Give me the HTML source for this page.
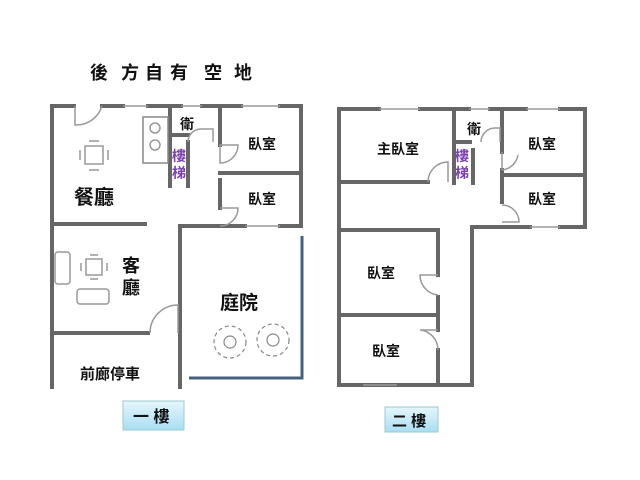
<!DOCTYPE html>
<html><head><meta charset="utf-8"><style>
html,body{margin:0;padding:0;background:#fff;}
svg{display:block;}
text{font-family:"Liberation Sans","Noto Sans CJK TC",sans-serif;font-weight:bold;fill:#111;}
</style></head><body>
<svg width="640" height="480" viewBox="0 0 640 480" xmlns="http://www.w3.org/2000/svg">
<defs>
<linearGradient id="bg" x1="0" y1="0" x2="0" y2="1"><stop offset="0" stop-color="#e6f6fc"/><stop offset="1" stop-color="#a9def3"/></linearGradient>
</defs>
<!-- title -->
<text x="90" y="79" font-size="18">後</text>
<text x="121" y="79" font-size="18">方</text>
<text x="145" y="79" font-size="18">自</text>
<text x="170" y="79" font-size="18">有</text>
<text x="204" y="79" font-size="18">空</text>
<text x="234" y="79" font-size="18">地</text>

<g stroke="#666" stroke-width="4" fill="none" stroke-linecap="square">
<!-- FLOOR 1 -->
<path d="M52 387 V106 H74 M102 106 H123 M148 106 H181 M202 106 H241 M280 106 H301 V226 H280 M245 226 H220"/>
<path d="M170 106 V186 M170 135 H188 M188 142 V186"/>
<path d="M220 106 V145 M220 180 V208 M220 173 H301"/>
<path d="M52 224 H145 M180 387 V226 H220"/>
<path d="M52 333 H148"/>
</g>
<g stroke="#999" stroke-width="1.5" fill="none">
<path d="M123 106 H148 M181 106 H202 M241 106 H280 M245 226 H280"/>
<path d="M75 106 V125 A27 27 0 0 0 102 106"/>
<path d="M220 145 H238 A18 18 0 0 1 220 163 Z" />
<path d="M220 208 H238 A18 18 0 0 1 220 226"/>
<path d="M150 333 A28 28 0 0 1 178 305 V333"/>
<path d="M188 142 A13 13 0 0 1 201 129 H213 V142"/>
<rect x="143" y="117" width="25" height="46" stroke="#888"/>
<circle cx="155" cy="128" r="5"/><circle cx="155" cy="145" r="5"/>
<rect x="85" y="146" width="18" height="18"/><path d="M80 150v10M108 150v10M89 141h10M89 170h10"/>
<rect x="86" y="259" width="16" height="16"/><path d="M81 263v8M107 263v8M90 255h8M90 279h8"/>
<rect x="55" y="252" width="15" height="32" rx="3"/>
<rect x="77" y="289" width="32" height="15" rx="3"/>
</g>
<g stroke="#44607f" stroke-width="3" fill="none"><path d="M302 236 V378 H189"/></g>
<g stroke="#888" stroke-width="1.2" fill="none">
<circle cx="230" cy="342" r="6"/><circle cx="230" cy="342" r="16" stroke-dasharray="4 3"/>
<circle cx="273" cy="340" r="6"/><circle cx="273" cy="340" r="16" stroke-dasharray="4 3"/>
</g>
<text x="74" y="204" font-size="20">餐廳</text>
<text x="122" y="272" font-size="18">客</text>
<text x="122" y="294" font-size="18">廳</text>
<text x="220" y="309" font-size="19">庭院</text>
<text x="80" y="379" font-size="15">前廊停車</text>
<text x="248" y="149" font-size="14">臥室</text>
<text x="248" y="204" font-size="14">臥室</text>
<text x="180" y="129" font-size="14">衛</text>
<text x="172" y="161" font-size="14" style="fill:#7a3fb0">樓</text>
<text x="172" y="178" font-size="14" style="fill:#7a3fb0">梯</text>

<!-- FLOOR 2 -->
<g stroke="#666" stroke-width="4" fill="none" stroke-linecap="square">
<path d="M339 385 V109 H379 M420 109 H469 M490 109 H526 M560 109 H585 V227 H560 M530 227 H472 V385 H339 M363 385 H339 M397 385 H438"/>
<path d="M339 182 H428 M454 109 V183 M473 150 V183 M454 142 H470"/>
<path d="M502 109 V152 M502 170 V202 M502 175 H585"/>
<path d="M339 230 H438 V275 M438 297 V330 M438 350 V385 M339 315 H438"/>
</g>
<g stroke="#999" stroke-width="1.5" fill="none">
<path d="M379 109 H420 M469 109 H490 M526 109 H560 M530 227 H560 M363 385 H397"/>
<path d="M428 182 A20 20 0 0 1 448 162 V182"/>
<path d="M502 152 V170 M502 170 A18 18 0 0 0 518 155"/>
<path d="M502 205 A17 17 0 0 1 519 222 H502"/>
<path d="M438 275 H420 A20 20 0 0 0 438 295"/>
<path d="M438 330 H420 A20 20 0 0 1 438 350"/>
<path d="M481 142 A14 14 0 0 1 495 128 H500 V142"/>
</g>
<text x="377" y="154" font-size="14">主臥室</text>
<text x="528" y="149" font-size="14">臥室</text>
<text x="528" y="204" font-size="14">臥室</text>
<text x="367" y="278" font-size="14">臥室</text>
<text x="372" y="356" font-size="14">臥室</text>
<text x="467" y="134" font-size="14">衛</text>
<text x="455" y="161" font-size="14" style="fill:#7a3fb0">樓</text>
<text x="455" y="178" font-size="14" style="fill:#7a3fb0">梯</text>

<!-- buttons -->
<rect x="123" y="401" width="61" height="29" fill="url(#bg)" stroke="#9cc" stroke-width="1"/>
<text x="133" y="422" font-size="16">一 樓</text>
<rect x="385" y="407" width="53" height="25" fill="url(#bg)" stroke="#9cc" stroke-width="1"/>
<text x="392" y="426" font-size="15">二 樓</text>
</svg>
</body></html>
